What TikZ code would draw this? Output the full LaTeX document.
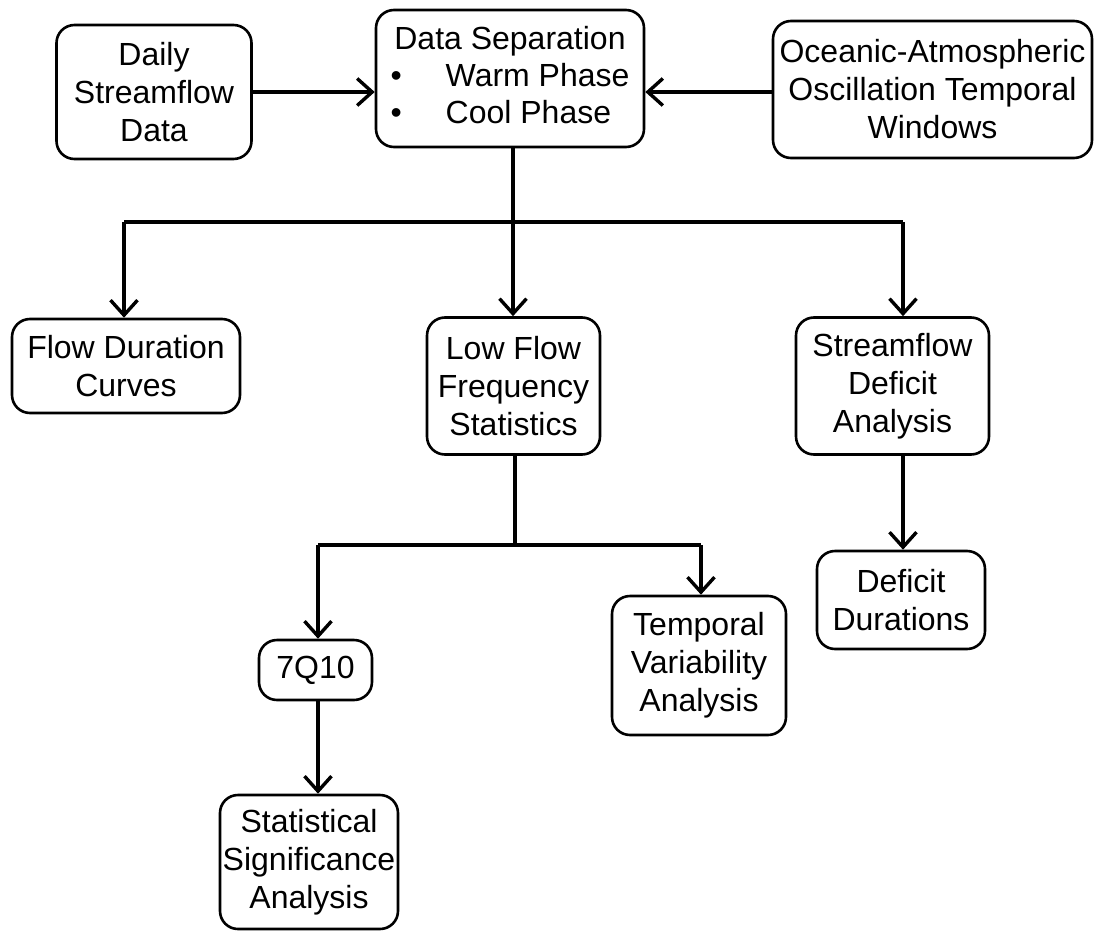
\documentclass[tikz,border=0pt]{standalone}
\usepackage{fontspec}
\setmainfont{Liberation Sans}
\usetikzlibrary{arrows.meta}
\begin{document}
\begin{tikzpicture}[x=1pt,y=-1pt,
  box/.style={draw,line width=2.6pt,rounded corners=18pt,align=center,inner sep=0pt,
    font=\fontsize{32}{38}\selectfont},
  conn/.style={line width=3.4pt},
  arr/.style={conn,-{Straight Barb[length=15pt,width=27pt,line width=3.4pt]}}]
\useasboundingbox (0,0) rectangle (1097,931);
\fill[white] (0,0) rectangle (1097,931);
\node[box,minimum width=195pt,minimum height=134pt] (daily) at (154,92) {Daily\\Streamflow\\Data};
\node[box,minimum width=268pt,minimum height=137pt] (sep) at (510,78.5)
  {\begin{tabular}{@{}l@{\hspace{44pt}}l@{}}\multicolumn{2}{@{}c@{}}{Data Separation}\\[-1pt]
   \textbullet & Warm Phase\\[-1pt] \textbullet & Cool Phase\end{tabular}};
\node[box,minimum width=319pt,minimum height=137pt] (ocean) at (932.5,89.5) {Oceanic-Atmospheric\\Oscillation Temporal\\Windows};
\node[box,minimum width=228pt,minimum height=94pt] (flow) at (126,366) {Flow Duration\\Curves};
\node[box,minimum width=173pt,minimum height=137pt] (low) at (513.5,386) {Low Flow\\Frequency\\Statistics};
\node[box,minimum width=193pt,minimum height=137pt] (deficit) at (892.5,386) {Streamflow\\Deficit\\Analysis};
\node[box,minimum width=168pt,minimum height=98pt] (dur) at (901,600) {Deficit\\Durations};
\node[box,minimum width=113pt,minimum height=60pt] (q7) at (315.5,670) {7Q10};
\node[box,minimum width=174pt,minimum height=139pt] (temp) at (699,665.5) {Temporal\\Variability\\Analysis};
\node[box,minimum width=178pt,minimum height=134pt] (stat) at (309,862) {Statistical\\Significance\\Analysis};
\coordinate (b1) at (513,222);
\coordinate (bL) at (124,222);
\coordinate (bR) at (903,222);
\coordinate (b2) at (515,545);
\coordinate (b2L) at (318,545);
\coordinate (b2R) at (701,545);
\draw[arr] (daily) -- (sep.west |- daily);
\draw[arr] (ocean.west |- daily) -- (sep.east |- daily);
\draw[conn] (sep.south -| b1) -- (b1);
\draw[conn] (bL) -- (bR);
\draw[arr] (bL) -- (bL |- flow.north);
\draw[arr] (b1) -- (b1 |- low.north);
\draw[arr] (bR) -- (bR |- deficit.north);
\draw[arr] (deficit.south -| bR) -- (bR |- dur.north);
\draw[conn] (low.south -| b2) -- (b2);
\draw[conn] (b2L) -- (b2R);
\draw[arr] (b2L) -- (b2L |- q7.north);
\draw[arr] (b2R) -- (b2R |- temp.north);
\draw[arr] (q7.south -| b2L) -- (b2L |- stat.north);
\end{tikzpicture}
\end{document}
